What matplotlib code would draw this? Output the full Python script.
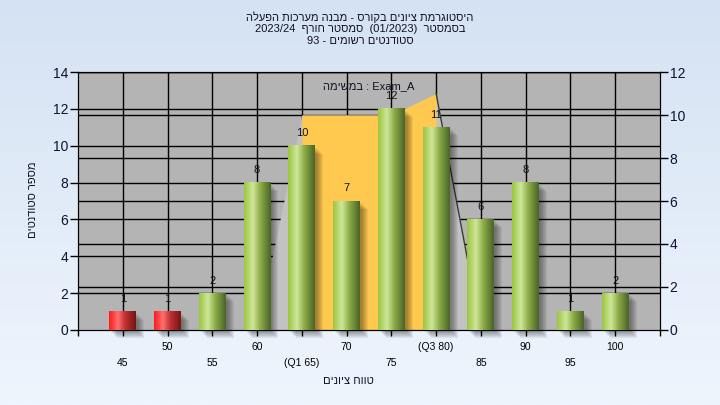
import numpy as np
import matplotlib
matplotlib.use("Agg")
import matplotlib.pyplot as plt
import matplotlib.transforms as mtransforms
from matplotlib.patches import Rectangle
from matplotlib.colors import LinearSegmentedColormap

plt.rcParams['font.family'] = ['Liberation Sans', 'DejaVu Sans']


def heb(s):
    # matplotlib writes left to right: reverse the Hebrew so it reads right
    return s[::-1]


# Données du graphique
grades = ["45", "50", "55", "60", "(Q1 65)", "70", "75", "(Q3 80)", "85", "90", "95", "100"]
counts = [1, 1, 2, 8, 10, 7, 12, 11, 6, 8, 1, 2]
failing = [True, True, False, False, False, False, False, False, False, False, False, False]
band = [0, 0, 0, 0, 10, 10, 10, 11, 0, 0, 0, 0]   # right axis
q1_idx, q3_idx = 4, 7

title1 = heb("היסטוגרמת ציונים בקורס - מבנה מערכות הפעלה")
title2 = "2023/24  " + heb("סמסטר חורף") + "  (01/2023)  " + heb("בסמסטר")
title3 = "93 - " + heb("סטודנטים רשומים")
caption = heb("במשימה") + " : Exam_A"
xlab = heb("טווח ציונים")
ylab = heb("מספר סטודנטים")

fig = plt.figure(figsize=(7.2, 4.05), dpi=100)

# fond dégradé
bg = fig.add_axes([0, 0, 1, 1], zorder=-10)
cmap_bg = LinearSegmentedColormap.from_list("bg", ["#d5e2f3", "#eef5fd"])
bg.imshow(np.linspace(0, 1, 256).reshape(-1, 1), aspect="auto", cmap=cmap_bg, extent=[0, 1, 0, 1])
bg.axis("off")

ax = fig.add_axes([0.1083, 0.1852, 0.8083, 0.637])
ax2 = ax.twinx()
ax.set_zorder(ax2.get_zorder() + 1)
ax.patch.set_visible(False)
ax2.patch.set_visible(True)
ax2.patch.set_facecolor("#b4b4b4")

x = np.arange(len(counts))
ax2.set_ylim(0, 12)

# grille (sous la zone grise)
for v in range(2, 15, 2):
    ax2.plot([-1, 12], [v, v], color="k", lw=1, transform=ax.transData, zorder=0.5)
for v in range(2, 13, 2):
    ax2.plot([-1, 12], [v, v], color="k", lw=1, zorder=0.5)
ax2.vlines(x, 0, 12, colors="k", lw=1, zorder=0.5)

# zone grise et zone Q1-Q3
ax2.fill_between(x, band, color="#c2c2c2", lw=0, zorder=1)
ax2.fill_between(x[q1_idx:q3_idx + 1], band[q1_idx:q3_idx + 1], color="#ffc94f", lw=0, zorder=1.1)
ax2.plot(x[q3_idx:q3_idx + 2], band[q3_idx:q3_idx + 2], color="#3a3a3a", lw=1, zorder=1.2)
ax2.set_xlim(-1, len(counts))
ax2.set_ylim(0, 12)

# barres cylindriques
green = LinearSegmentedColormap.from_list("g", [(0, "#9cc640"), (0.33, "#cfe79a"), (0.6, "#8eae48"), (1, "#4a6426")])
red = LinearSegmentedColormap.from_list("r", [(0, "#ff1a1a"), (0.33, "#ff7070"), (0.6, "#c23232"), (1, "#761414")])
ramp = np.linspace(0, 1, 64).reshape(1, -1)
w = 0.6
for i, (c, f) in enumerate(zip(counts, failing)):
    # ombre floue
    for d in range(2, 9):
        tr = mtransforms.offset_copy(ax.transData, fig=fig, x=d, y=-d, units="dots")
        ax.add_patch(Rectangle((i - w / 2, 0), w, c, transform=tr, color="k", alpha=0.06,
                               lw=0, zorder=2, clip_on=False))
    ax.imshow(ramp, cmap=red if f else green, extent=[i - w / 2, i + w / 2, 0, c],
              aspect="auto", zorder=3, interpolation="bilinear")
    ax.annotate(str(c), (i, c), xytext=(0, 5.5), textcoords="offset points",
                ha="center", va="bottom", fontsize=8, color="#111111", zorder=4)

ax.set_xlim(-1, len(counts))
ax.set_ylim(0, 14)

# axes
ax.set_xticks(x)
ax.set_xticklabels([g if i % 2 else "\n" + g for i, g in enumerate(grades)])
for t in ax.get_xticklabels():
    t.set_linespacing(1.7)
ax.set_xticks([-1, len(counts)], minor=True)
ax.tick_params(axis="x", which="both", length=4, width=1, pad=5, labelsize=7.5, colors="k")
ax.set_yticks(range(0, 15, 2))
ax.tick_params(axis="y", length=6, width=1, pad=1, labelsize=10, labelcolor="#111133")
ax2.set_yticks(range(0, 13, 2))
ax2.tick_params(axis="y", length=6, width=1, pad=1, labelsize=10, labelcolor="#111133")
for s in ax.spines.values():
    s.set_color("k")
for s in ax2.spines.values():
    s.set_color("k")

# textes
fig.text(0.5, 1 - 17 / 405, title1, ha="center", va="center", fontsize=8, color="#111122")
fig.text(0.5, 1 - 29 / 405, title2, ha="center", va="center", fontsize=8, color="#111122")
fig.text(0.5, 1 - 41 / 405, title3, ha="center", va="center", fontsize=8, color="#111122")
ax.text(0.5, 0.946, caption, transform=ax.transAxes, ha="center", va="center", fontsize=8, color="#111122", zorder=5)
fig.text(348 / 720, 1 - 381 / 405, xlab, ha="center", va="center", fontsize=8, color="#111122")
fig.text(33 / 720, 1 - 200 / 405, ylab, ha="center", va="center", rotation=90, fontsize=8, color="#111122")

fig.savefig("out.png", dpi=100)
